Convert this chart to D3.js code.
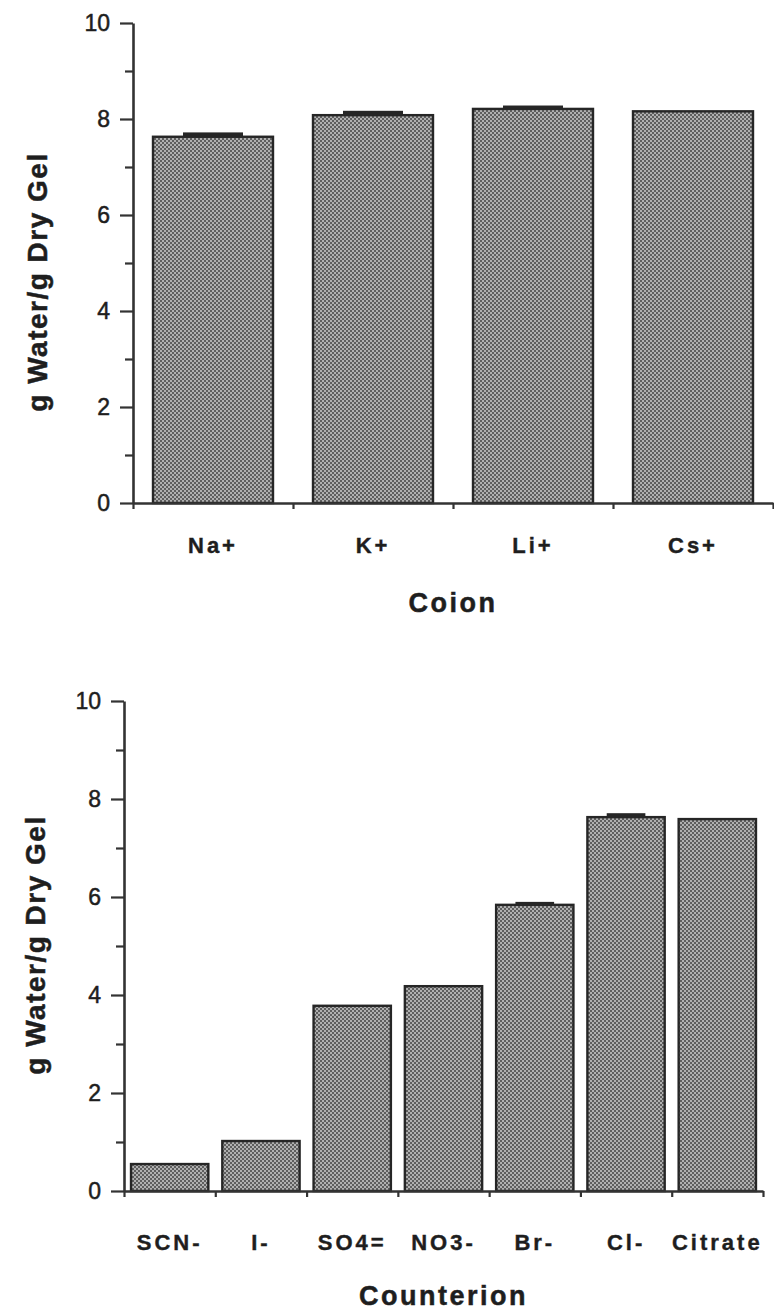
<!DOCTYPE html>
<html>
<head>
<meta charset="utf-8">
<script src="https://cdn.jsdelivr.net/npm/d3@7"></script>
<style>
  body { margin: 0; background: #fff; }
  svg { display: block; }
  text { font-family: "Liberation Sans", Arial, Helvetica, sans-serif; fill: #1e1e1e; }
</style>
</head>
<body>
<div id="chart"></div>
<script>
// swelling data (g water / g dry gel)
const coions = ["Na+", "K+", "Li+", "Cs+"];
const coionValues = [7.63, 8.08, 8.21, 8.16];
const coionErrors = [0.07, 0.07, 0.05, 0];

const counterions = ["SCN-", "I-", "SO4=", "NO3-", "Br-", "Cl-", "Citrate"];
const counterionValues = [0.55, 1.02, 3.78, 4.18, 5.84, 7.63, 7.59];
const counterionErrors = [0, 0, 0, 0, 0.04, 0.06, 0];

const majorTicks = [0, 2, 4, 6, 8, 10];
const minorTicks = [1, 3, 5, 7, 9];
const yTitle = "g Water/g Dry Gel";

const svg = d3.select("#chart").append("svg")
    .attr("width", 774)
    .attr("height", 1314);

// halftone-ish fill like the scanned bars
const pat = svg.append("defs").append("pattern")
    .attr("id", "dots")
    .attr("width", 4).attr("height", 4)
    .attr("patternUnits", "userSpaceOnUse");
pat.append("rect").attr("width", 4).attr("height", 4).attr("fill", "#b0b0b0");
pat.append("rect").attr("width", 2).attr("height", 2).attr("fill", "#5e5e5e");
pat.append("rect").attr("x", 2).attr("y", 2).attr("width", 2).attr("height", 2).attr("fill", "#5e5e5e");

const drawPanel = (cfg) => {
    const g = svg.append("g");

    let x = d3.scaleBand()
        .domain(cfg.names)
        .range([cfg.left, cfg.right])
        .paddingInner(cfg.padIn)
        .paddingOuter(cfg.padOut);

    let y = d3.scaleLinear()
        .domain([0, 10])
        .range([cfg.bottom, cfg.top]);

    // bars
    g.append("g")
        .selectAll("rect")
        .data(cfg.names)
        .join("rect")
        .attr("x", d => x(d))
        .attr("y", (d, i) => y(cfg.values[i]))
        .attr("width", x.bandwidth())
        .attr("height", (d, i) => y(0) - y(cfg.values[i]))
        .attr("fill", "url(#dots)")
        .attr("stroke", "#262626")
        .attr("stroke-width", 2.4);

    // error caps: dark block sitting on top of the bar, half its width
    const withErr = cfg.names.map((d, i) => ({name: d, v: cfg.values[i], e: cfg.errors[i]}))
        .filter(d => d.e > 0);
    g.append("g")
        .selectAll("rect")
        .data(withErr)
        .join("rect")
        .attr("x", d => x(d.name) + x.bandwidth() / 4)
        .attr("y", d => y(d.v + d.e) - 1)
        .attr("width", x.bandwidth() / 2)
        .attr("height", d => y(d.v) - y(d.v + d.e) + 1)
        .attr("fill", "#262626");

    // y axis, major + minor ticks
    g.append("g")
        .attr("transform", `translate(${cfg.left},0)`)
        .call(d3.axisLeft(y).tickValues(minorTicks).tickSize(8).tickSizeOuter(0).tickFormat(""))
        .call(a => a.select(".domain").remove())
        .call(a => a.selectAll("line").attr("stroke", "#333").attr("stroke-width", 2.2));

    g.append("g")
        .attr("transform", `translate(${cfg.left},0)`)
        .call(d3.axisLeft(y).tickValues(majorTicks).tickSize(13).tickSizeOuter(0).tickPadding(10))
        .call(a => a.select(".domain").attr("stroke", "#333").attr("stroke-width", 2.6))
        .call(a => a.selectAll("line").attr("stroke", "#333").attr("stroke-width", 2.2))
        .call(a => a.selectAll("text")
            .attr("font-size", 23)
            .attr("font-family", "Liberation Sans, Arial, sans-serif")
            .attr("fill", "#1e1e1e")
            .attr("stroke", "#1e1e1e")
            .attr("stroke-width", 0.5));

    // x axis with ticks at the category boundaries
    let xb = d3.scaleLinear()
        .domain([0, cfg.names.length])
        .range([cfg.left, cfg.right]);

    g.append("g")
        .attr("transform", `translate(0,${y(0)})`)
        .call(d3.axisBottom(xb).tickValues(d3.range(cfg.names.length + 1)).tickSize(6).tickSizeOuter(0).tickFormat(""))
        .call(a => a.select(".domain").attr("stroke", "#333").attr("stroke-width", 2.6))
        .call(a => a.selectAll("line").attr("stroke", "#333").attr("stroke-width", 2.2));

    // category labels
    g.append("g")
        .selectAll("text")
        .data(cfg.names)
        .join("text")
        .attr("x", d => x(d) + x.bandwidth() / 2)
        .attr("y", cfg.labelY)
        .attr("text-anchor", "middle")
        .attr("font-size", 22)
        .attr("font-weight", "bold")
        .attr("letter-spacing", 3)
        .attr("stroke", "#1e1e1e")
        .attr("stroke-width", 0.4)
        .text(d => d);

    // axis titles
    g.append("text")
        .attr("x", (cfg.left + cfg.right) / 2)
        .attr("y", cfg.titleY)
        .attr("text-anchor", "middle")
        .attr("font-size", 27)
        .attr("font-weight", "bold")
        .attr("letter-spacing", 2.5)
        .attr("stroke", "#1e1e1e")
        .attr("stroke-width", 0.5)
        .text(cfg.title);

    g.append("text")
        .attr("transform", `translate(${cfg.yTitleX},${cfg.yTitleMid}) rotate(-90)`)
        .attr("text-anchor", "middle")
        .attr("font-size", 28)
        .attr("font-weight", "bold")
        .attr("letter-spacing", 1.5)
        .attr("stroke", "#1e1e1e")
        .attr("stroke-width", 0.5)
        .text(yTitle);
};

drawPanel({
    names: coions, values: coionValues, errors: coionErrors, title: "Coion",
    left: 133, right: 773, top: 23, bottom: 503,
    padIn: 0.25, padOut: 0.125,
    labelY: 553, titleY: 612, yTitleX: 47, yTitleMid: 282
});

drawPanel({
    names: counterions, values: counterionValues, errors: counterionErrors, title: "Counterion",
    left: 124, right: 763, top: 701, bottom: 1191,
    padIn: 0.153, padOut: 0.077,
    labelY: 1250, titleY: 1305, yTitleX: 45, yTitleMid: 945
});
</script>
</body>
</html>
